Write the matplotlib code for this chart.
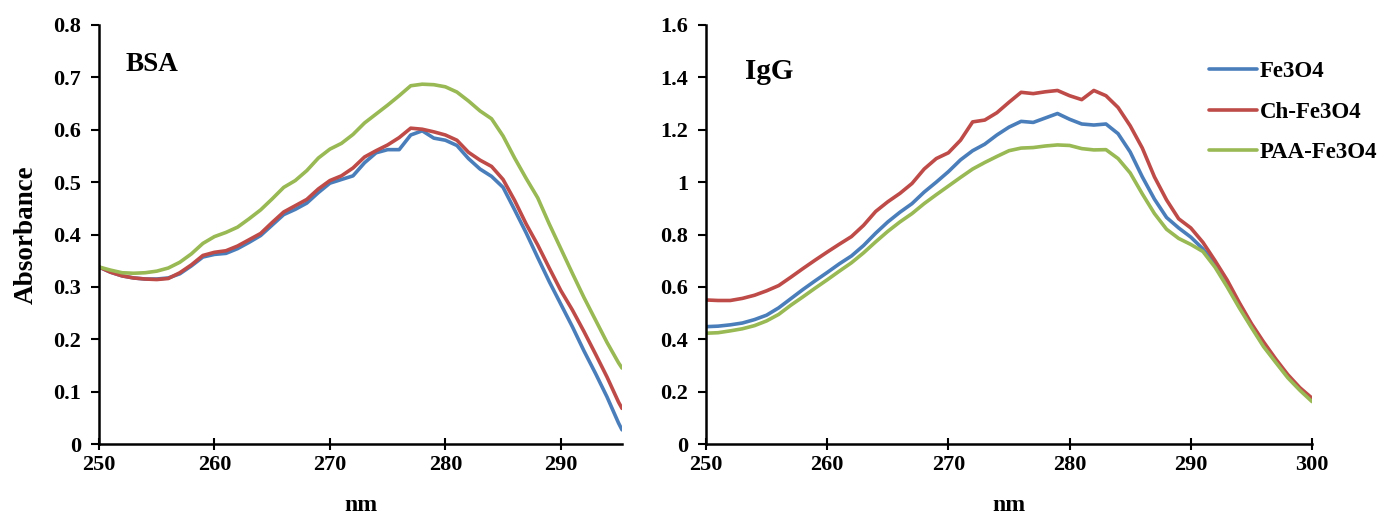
import matplotlib
matplotlib.use("Agg")
import matplotlib.pyplot as plt
from matplotlib.ticker import FormatStrFormatter, MultipleLocator

plt.rcParams['font.family'] = ['Liberation Serif', 'DejaVu Serif']
plt.rcParams['font.weight'] = 'bold'

# ---- BSA panel data (nm, absorbance) ----
bsa_nm = [250, 251, 252, 253, 254, 255, 256, 257, 258, 259, 260, 261, 262, 263, 264,
          265, 266, 267, 268, 269, 270, 271, 272, 273, 274, 275, 276, 277, 278, 279,
          280, 281, 282, 283, 284, 285, 286, 287, 288, 289, 290, 291, 292, 293, 294,
          295, 295.3]
bsa_fe3o4 = [0.338, 0.328, 0.321, 0.317, 0.315, 0.315, 0.317, 0.325, 0.340, 0.357,
             0.362, 0.364, 0.373, 0.385, 0.398, 0.418, 0.438, 0.448, 0.460, 0.480,
             0.498, 0.505, 0.512, 0.537, 0.556, 0.562, 0.562, 0.590, 0.598, 0.584,
             0.580, 0.570, 0.545, 0.525, 0.511, 0.490, 0.447, 0.403, 0.356, 0.310,
             0.267, 0.224, 0.178, 0.135, 0.090, 0.040, 0.027]
bsa_ch = [0.338, 0.328, 0.321, 0.317, 0.315, 0.314, 0.316, 0.327, 0.342, 0.360,
          0.366, 0.369, 0.378, 0.390, 0.402, 0.423, 0.443, 0.455, 0.467, 0.487,
          0.503, 0.512, 0.527, 0.548, 0.560, 0.571, 0.585, 0.603, 0.601, 0.596,
          0.590, 0.580, 0.557, 0.542, 0.530, 0.505, 0.465, 0.420, 0.380, 0.336,
          0.293, 0.256, 0.215, 0.172, 0.128, 0.080, 0.068]
bsa_paa = [0.338, 0.332, 0.327, 0.326, 0.327, 0.330, 0.336, 0.347, 0.363, 0.383,
           0.396, 0.404, 0.414, 0.430, 0.447, 0.468, 0.490, 0.503, 0.522, 0.546,
           0.563, 0.574, 0.591, 0.613, 0.630, 0.647, 0.665, 0.684, 0.687, 0.686,
           0.682, 0.672, 0.655, 0.636, 0.621, 0.588, 0.546, 0.507, 0.470, 0.420,
           0.373, 0.326, 0.280, 0.237, 0.194, 0.155, 0.145]

# ---- IgG panel data ----
igg_nm = list(range(250, 301))
igg_fe3o4 = [0.448, 0.450, 0.455, 0.462, 0.475, 0.492, 0.520, 0.555, 0.590, 0.623,
             0.655, 0.688, 0.718, 0.758, 0.805, 0.848, 0.885, 0.918, 0.962, 1.000,
             1.040, 1.085, 1.120, 1.145, 1.180, 1.210, 1.232, 1.228, 1.245, 1.262,
             1.240, 1.222, 1.218, 1.222, 1.185, 1.115, 1.020, 0.935, 0.865, 0.825,
             0.790, 0.745, 0.685, 0.610, 0.535, 0.455, 0.385, 0.320, 0.260, 0.212,
             0.168]
igg_ch = [0.550, 0.548, 0.548, 0.556, 0.568, 0.585, 0.605, 0.637, 0.670, 0.702,
          0.733, 0.763, 0.792, 0.835, 0.888, 0.925, 0.957, 0.995, 1.050, 1.090,
          1.112, 1.160, 1.230, 1.237, 1.265, 1.305, 1.343, 1.338, 1.345, 1.350,
          1.330, 1.315, 1.350, 1.330, 1.285, 1.215, 1.130, 1.020, 0.932, 0.860,
          0.825, 0.770, 0.700, 0.626, 0.540, 0.460, 0.390, 0.325, 0.265, 0.215,
          0.175]
igg_paa = [0.423, 0.425, 0.432, 0.440, 0.452, 0.470, 0.495, 0.530, 0.562, 0.595,
           0.627, 0.660, 0.692, 0.730, 0.772, 0.812, 0.848, 0.880, 0.918, 0.952,
           0.985, 1.018, 1.050, 1.075, 1.098, 1.120, 1.130, 1.132, 1.138, 1.142,
           1.140, 1.128, 1.123, 1.124, 1.090, 1.035, 0.955, 0.880, 0.820, 0.785,
           0.762, 0.735, 0.675, 0.600, 0.520, 0.445, 0.372, 0.312, 0.253, 0.205,
           0.162]

labels = ['Fe3O4', 'Ch-Fe3O4', 'PAA-Fe3O4']
colors = ['#4a7ebb', '#be4b48', '#98b954']

fig = plt.figure(figsize=(13.87, 5.16), dpi=100)
ax1 = fig.add_axes([99/1387, 72/516, 523/1387, 419/516])
ax2 = fig.add_axes([706/1387, 72/516, 606/1387, 419/516])


def style(ax):
    for s in ['top', 'right']:
        ax.spines[s].set_visible(False)
    for s in ['left', 'bottom']:
        ax.spines[s].set_linewidth(1.8)
    ax.tick_params(axis='x', direction='inout', length=8, width=1.5, pad=4, labelsize=16)
    ax.tick_params(axis='y', direction='out', length=6, width=1.5, pad=7, labelsize=16)
    ax.xaxis.set_major_locator(MultipleLocator(10))
    ax.yaxis.set_major_formatter(FormatStrFormatter('%g'))
    for t in ax.get_xticklabels() + ax.get_yticklabels():
        t.set_fontweight('bold')
    ax.set_xlabel('nm', fontsize=17, fontweight='bold', labelpad=14)


for ys, c, l in zip([bsa_fe3o4, bsa_ch, bsa_paa], colors, labels):
    ax1.plot(bsa_nm, ys, color=c, lw=2.6, label=l, solid_joinstyle='round',
             solid_capstyle='round')
ax1.set_xlim(250, 295.3)
ax1.set_ylim(0, 0.8)
ax1.yaxis.set_major_locator(MultipleLocator(0.1))
style(ax1)
ax1.set_ylabel('Absorbance', fontsize=19.5, fontweight='bold', labelpad=10)
ax1.text(0.05, 0.905, 'BSA', transform=ax1.transAxes, fontsize=19.5, fontweight='bold',
         va='center', ha='left')

lines = []
for ys, c, l in zip([igg_fe3o4, igg_ch, igg_paa], colors, labels):
    ln, = ax2.plot(igg_nm, ys, color=c, lw=2.6, label=l, solid_joinstyle='round',
                   solid_capstyle='round')
    lines.append(ln)
ax2.set_xlim(250, 300)
ax2.set_ylim(0, 1.6)
ax2.yaxis.set_major_locator(MultipleLocator(0.2))
style(ax2)
ax2.text(0.065, 0.89, 'IgG', transform=ax2.transAxes, fontsize=21, fontweight='bold',
         va='center', ha='left')

fig.legend(handles=lines, loc='upper left', bbox_to_anchor=(1209/1387, 1 - 61/516),
           frameon=False, handlelength=2.1, handletextpad=0.1,
           labelspacing=0.85, borderpad=0, borderaxespad=0,
           prop={'weight': 'bold', 'size': 16.5})

fig.savefig('out.png', dpi=100, facecolor='white')
